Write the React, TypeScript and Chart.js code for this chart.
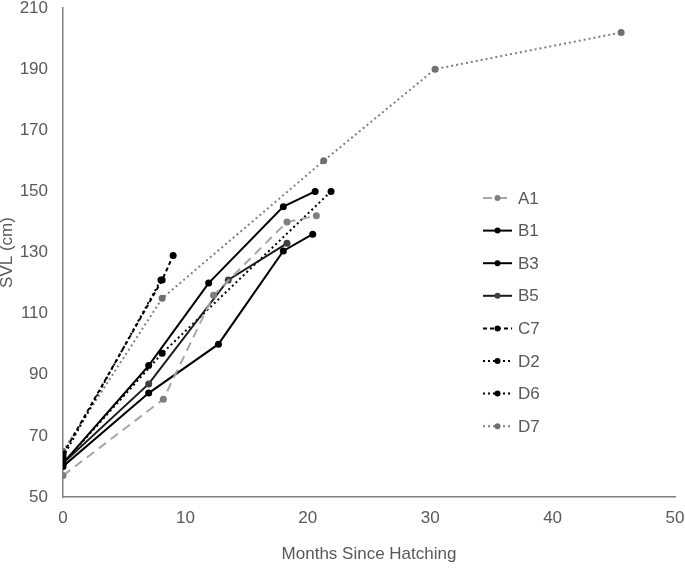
import React, { useEffect, useRef } from "react";
import { Chart, registerables } from "chart.js";

Chart.register(...registerables);

const seriesNames = ["A1", "B1", "B3", "B5", "C7", "D2", "D6", "D7"];

const a1Months = [0, 8.2, 12.3, 18.3, 20.7];
const a1Svl = [57, 82, 116, 140, 142];

const b1Months = [0, 7, 11.9, 18, 20.6];
const b1Svl = [61, 93, 120, 145, 150];

const b3Months = [0, 7, 12.7, 18, 20.4];
const b3Svl = [60, 84, 100, 130.5, 136];

const b5Months = [0, 7, 13.5, 18.3];
const b5Svl = [61, 87, 121, 133];

const c7Months = [0, 8.1, 9];
const c7Svl = [64, 121, 129];

const d2Months = [0, 8.1, 21.9];
const d2Svl = [61, 97, 150];

const d6Months = [0, 8];
const d6Svl = [63, 121];

const d7Months = [0, 8.1, 21.3, 30.4, 45.6];
const d7Svl = [65, 115, 160, 190, 202];

const xTicks = [0, 10, 20, 30, 40, 50];
const yTicks = [50, 70, 90, 110, 130, 150, 170, 190, 210];

const allMonths = [a1Months, b1Months, b3Months, b5Months, c7Months, d2Months, d6Months, d7Months];
const allSvl = [a1Svl, b1Svl, b3Svl, b5Svl, c7Svl, d2Svl, d6Svl, d7Svl];

const styles = [
  { line: "#a6a6a6", point: "#7f7f7f", dash: [9, 6] },
  { line: "#000000", point: "#000000", dash: [] },
  { line: "#000000", point: "#000000", dash: [] },
  { line: "#1a1a1a", point: "#404040", dash: [] },
  { line: "#000000", point: "#000000", dash: [4, 3] },
  { line: "#000000", point: "#000000", dash: [2, 3] },
  { line: "#000000", point: "#000000", dash: [2, 3] },
  { line: "#7f7f7f", point: "#6f6f6f", dash: [2, 3] },
];

const FONT = "'Liberation Sans', Arial, sans-serif";
const TEXT = "#595959";

const legendPlugin = {
  id: "insideLegend",
  afterDraw(chart: any) {
    const ctx = chart.ctx;
    ctx.save();
    chart.data.datasets.forEach((ds: any, i: number) => {
      const y = 198 + i * 32.6;
      ctx.strokeStyle = ds.borderColor;
      ctx.lineWidth = 2;
      ctx.setLineDash(ds.borderDash || []);
      ctx.beginPath();
      ctx.moveTo(483, y);
      ctx.lineTo(512, y);
      ctx.stroke();
      ctx.setLineDash([]);
      ctx.fillStyle = ds.pointBackgroundColor;
      ctx.beginPath();
      ctx.arc(497.5, y, 3, 0, Math.PI * 2);
      ctx.fill();
      ctx.fillStyle = TEXT;
      ctx.font = "17px " + FONT;
      ctx.textBaseline = "middle";
      ctx.textAlign = "left";
      ctx.fillText(ds.label, 518, y + 1);
    });
    ctx.restore();
  },
};

export default function App() {
  const ref = useRef<HTMLCanvasElement>(null);
  useEffect(() => {
    const datasets = seriesNames.map((name, i) => ({
      label: name,
      data: allMonths[i].map((m, j) => ({ x: m, y: allSvl[i][j] })),
      borderColor: styles[i].line,
      backgroundColor: styles[i].point,
      pointBackgroundColor: styles[i].point,
      pointBorderWidth: 0,
      pointRadius: 3.5,
      borderWidth: 2,
      borderDash: styles[i].dash,
      fill: false,
      tension: 0,
    }));
    const chart = new Chart(ref.current!, {
      type: "line",
      data: { datasets },
      plugins: [legendPlugin],
      options: {
        animation: false,
        responsive: false,
        layout: { padding: { top: 8, right: 10, left: 0, bottom: 0 } },
        plugins: { legend: { display: false }, tooltip: { enabled: false } },
        scales: {
          x: {
            type: "linear",
            min: 0,
            max: 50,
            afterBuildTicks: (s: any) => { s.ticks = xTicks.map((v) => ({ value: v })); },
            afterFit: (s: any) => { s.height = 73; s.paddingLeft = 0; s.paddingRight = 0; },
            grid: { display: false, drawTicks: false },
            border: { display: true, color: "#7f7f7f", width: 1.5 },
            ticks: { color: TEXT, font: { size: 17, family: FONT }, padding: 11, maxRotation: 0 },
            title: { display: true, text: "Months Since Hatching", color: TEXT, font: { size: 17, family: FONT }, padding: { top: 0, bottom: 5 } },
          },
          y: {
            type: "linear",
            min: 50,
            max: 210,
            afterBuildTicks: (s: any) => { s.ticks = yTicks.map((v) => ({ value: v })); },
            afterFit: (s: any) => { s.width = 63; s.paddingTop = 0; s.paddingBottom = 0; },
            grid: { display: false, drawTicks: false },
            border: { display: true, color: "#7f7f7f", width: 1.5 },
            ticks: { color: TEXT, font: { size: 17, family: FONT }, padding: 15 },
            title: { display: true, text: "SVL (cm)", color: TEXT, font: { size: 17, family: FONT }, padding: { top: -3, bottom: 0 } },
          },
        },
      },
    } as any);
    return () => chart.destroy();
  }, []);
  return (
    <div style={{ position: "fixed", left: 0, top: 0, width: 685, height: 570, background: "#fff" }}>
      <canvas ref={ref} width={685} height={570} />
    </div>
  );
}
